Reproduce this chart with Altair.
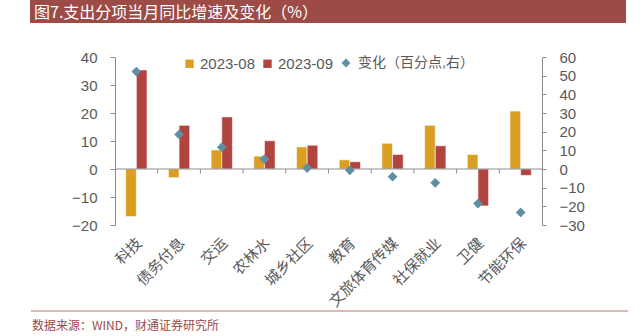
import altair as alt
import pandas as pd

cats = ["科技", "债务付息", "交运", "农林水", "城乡社区", "教育", "文旅体育传媒", "社保就业", "卫健", "节能环保"]
v08 = [-17.0, -3.1, 6.8, 4.6, 7.9, 3.3, 9.2, 15.6, 5.2, 20.7]
v09 = [35.4, 15.6, 18.6, 10.1, 8.5, 2.6, 5.2, 8.3, -13.2, -2.3]
chg = [52.2, 18.5, 11.7, 5.3, 0.5, -0.7, -4.1, -7.4, -18.5, -23.3]
series = ["2023-08", "2023-09"]
chg_label = "变化（百分点,右）"
left_ticks = [-20, -10, 0, 10, 20, 30, 40]
right_ticks = [-30, -20, -10, 0, 10, 20, 30, 40, 50, 60]

title_text = "图7.支出分项当月同比增速及变化（%）"
source_text = "数据来源：WIND，财通证券研究所"

bars_df = pd.DataFrame(
    [{"cat": c, "series": series[0], "value": a} for c, a in zip(cats, v08)]
    + [{"cat": c, "series": series[1], "value": b} for c, b in zip(cats, v09)]
)
pts_df = pd.DataFrame({"cat": cats, "chg": chg, "label": [chg_label] * len(cats)})
bnd_df = pd.DataFrame({"cat": cats[1:]})
one = pd.DataFrame({"k": [0]})

CJK = "Liberation Sans, Noto Sans CJK SC"
GREY = "#595959"
AXC = "#8c8c8c"

xaxis = alt.Axis(
    title=None, domain=False, ticks=False, tickSize=0, labelAngle=-45,
    labelAlign="right", labelBaseline="middle",
    labelFont="Noto Sans CJK SC", labelFontSize=15, labelColor=GREY,
    labelPadding=15, labelOffset=3, labelOverlap=False,
)
xscale = alt.Scale(paddingInner=0, paddingOuter=0)
yscale = alt.Scale(domain=[-20, 40], nice=False, zero=False)
yaxis = alt.Axis(
    title=None, values=left_ticks, tickCount=7, grid=False, orient="left",
    domainColor=AXC, tickColor=AXC, tickSize=5, labelPadding=13,
    labelOverlap=False, labelFont="Liberation Sans", labelFontSize=15,
    labelColor=GREY,
)

bars = alt.Chart(bars_df).mark_bar(stroke="white", strokeWidth=0.6).encode(
    x=alt.X("cat:N", sort=cats, scale=xscale, axis=xaxis),
    xOffset=alt.XOffset("series:N", sort=series, scale=alt.Scale(paddingOuter=1, paddingInner=0)),
    y=alt.Y("value:Q", scale=yscale, axis=yaxis),
    color=alt.Color(
        "series:N", sort=series,
        scale=alt.Scale(domain=series, range=["#DA9E23", "#B24440"]),
        legend=alt.Legend(
            title=None, orient="none", direction="horizontal", padding=0,
            legendX=67, legendY=-1, symbolType="square", symbolSize=70,
            symbolStrokeWidth=0, labelFont="Liberation Sans", labelFontSize=15,
            labelColor=GREY, labelOffset=3, columnPadding=4,
        ),
    ),
)

zero = alt.Chart(one).mark_rule(color=AXC, strokeWidth=1).encode(
    y=alt.datum(0, scale=yscale, axis=yaxis),
)
bticks = alt.Chart(bnd_df).mark_rule(color=AXC, strokeWidth=1).encode(
    x=alt.X("cat:N", sort=cats, bandPosition=0, scale=xscale, axis=xaxis),
    y=alt.datum(0, scale=yscale, axis=yaxis),
    y2=alt.datum(-1.6),
)

left_layer = alt.layer(bars, zero, bticks)

pts = alt.Chart(pts_df).mark_point(filled=True, size=95, opacity=1, color="#5E8FA6").encode(
    x=alt.X("cat:N", sort=cats, scale=xscale, axis=xaxis),
    y=alt.Y(
        "chg:Q", scale=alt.Scale(domain=[-30, 60], nice=False, zero=False),
        axis=alt.Axis(
            title=None, values=right_ticks, grid=False, orient="right",
            domainColor=AXC, tickColor=AXC, tickSize=4, labelPadding=13,
            labelOverlap=False, labelFont="Liberation Sans", labelFontSize=15,
            labelColor=GREY,
        ),
    ),
    shape=alt.Shape(
        "label:N",
        scale=alt.Scale(domain=[chg_label], range=["diamond"]),
        legend=alt.Legend(
            title=None, orient="none", legendX=224, legendY=-1, padding=0,
            symbolSize=80, symbolFillColor="#5E8FA6", symbolStrokeWidth=0,
            labelFont=CJK, labelFontSize=14, labelColor=GREY, labelOffset=5,
        ),
    ),
)

title_bar = alt.Chart(one).mark_rect(color="#9C4B47").encode(
    x=alt.value(-85), x2=alt.value(511), y=alt.value(-57), y2=alt.value(-34)
)
title_txt = alt.Chart(one).mark_text(
    text=title_text, color="white", font="Noto Sans CJK SC", fontSize=16,
    align="left", baseline="middle",
).encode(x=alt.value(-81), y=alt.value(-44.5))
foot_line = alt.Chart(one).mark_rule(color="#B8706C", strokeWidth=1).encode(
    x=alt.value(-84), x2=alt.value(513), y=alt.value(254)
)
foot_txt = alt.Chart(one).mark_text(
    text=source_text, color="#9C4B47", font="Noto Sans CJK SC", fontSize=12,
    align="left", baseline="middle",
).encode(x=alt.value(-83), y=alt.value(269))

deco = alt.layer(title_bar, title_txt, foot_line, foot_txt)

chart = (
    alt.layer(left_layer, pts, deco)
    .resolve_scale(y="independent", color="independent", shape="independent")
    .properties(
        width=427, height=168,
        autosize=alt.AutoSizeParams(type="none"),
        padding={"left": 115, "top": 57, "right": 101, "bottom": 111},
        background="white",
    )
    .configure_view(stroke=None)
)

chart.save("out.html", embed_options={"renderer": "svg", "actions": False})
